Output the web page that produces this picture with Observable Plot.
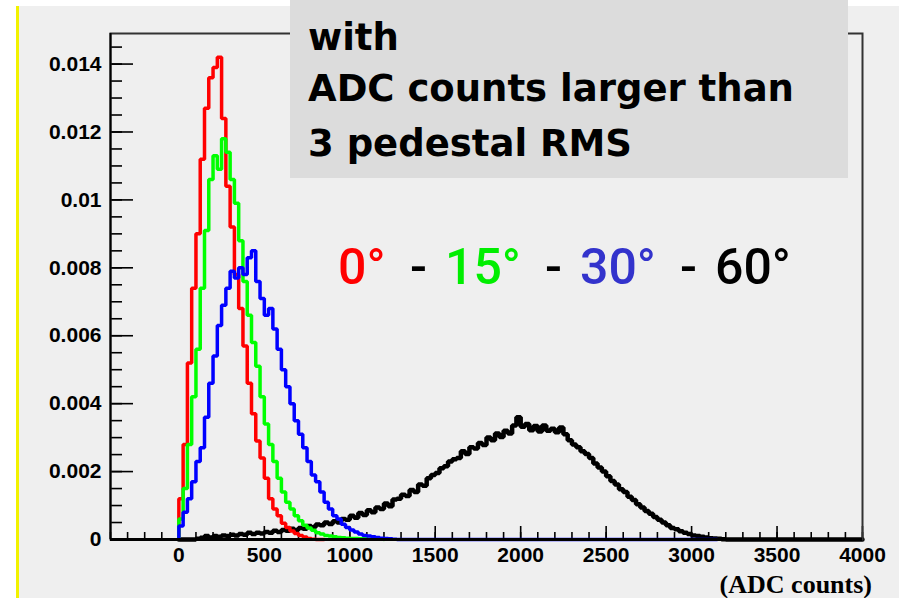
<!DOCTYPE html>
<html><head><meta charset="utf-8">
<script src="https://cdn.jsdelivr.net/npm/d3@7"></script>
<script src="https://cdn.jsdelivr.net/npm/@observablehq/plot@0.6"></script>
<style>
html,body{margin:0;padding:0;background:#fff;}
#wrap{position:relative;width:899px;height:598px;overflow:hidden;background:#fff;}
#panel{position:absolute;left:19px;top:6px;right:0;bottom:0;background:#efefef;}
#ybar{position:absolute;left:16px;top:6px;width:3px;bottom:0;background:#f2f200;}
#chart{position:absolute;left:0;top:0;}
</style>
</head><body>
<div id="wrap"><div id="panel"></div><div id="ybar"></div><div id="chart"></div></div>
<script>
// ---- data (histograms, bin width 25 ADC counts, starting at 0) ----
const binWidth = 25;
const red0 = [0.0012,0.0028,0.0052,0.0074,0.0090,0.0112,0.0127,0.0136,0.0139,0.0142,0.0124,0.0104,0.0092,0.0078,0.0068,0.0057,0.0046,0.0037,0.0029,0.0024,0.0018,0.0012,0.0009,0.0007,0.00048,0.00035,0.00025,0.00018,0.00012,0.00007,0.00003,0.00001];
const green15 = [0.0006,0.0015,0.0028,0.0042,0.0056,0.0074,0.0091,0.0106,0.0113,0.0109,0.0118,0.0114,0.0106,0.0099,0.0088,0.0076,0.0066,0.0058,0.0051,0.0042,0.0034,0.0028,0.0023,0.0018,0.0014,0.0011,0.0009,0.0007,0.00055,0.00042,0.00034,0.00027,0.0002,0.00016,0.00012,0.0001,0.00008,0.00006,0.00005,0.00004,0.00003,0.00003,0.00002,0.00002,0.00001,0.00001,0.00001,0.00001];
const blue30 = [0.0004,0.0008,0.0012,0.0017,0.0023,0.0027,0.0036,0.0046,0.0054,0.0063,0.0069,0.0074,0.0079,0.0077,0.0080,0.0078,0.0083,0.0085,0.0076,0.0071,0.0066,0.0068,0.0062,0.0056,0.0050,0.0045,0.0040,0.0035,0.0031,0.0027,0.0023,0.0019,0.0017,0.0014,0.0011,0.0009,0.0007,0.0006,0.00045,0.00035,0.00028,0.00022,0.00016,0.00012,0.0001,0.00008,0.00006,0.00004,0.00003,0.00002,0.00001];
const black60 = [0,0,0,0,0.00002,0.00005,0.0001,0.00006,0.0001,0.00008,0.00012,0.0001,0.00014,0.00012,0.00016,0.00014,0.0002,0.00016,0.0002,0.00018,0.00022,0.0002,0.00026,0.00022,0.00028,0.00026,0.00032,0.00028,0.00034,0.00032,0.0004,0.00036,0.00044,0.00042,0.0005,0.00046,0.00054,0.0005,0.0006,0.00058,0.0007,0.00064,0.00078,0.00072,0.00086,0.0008,0.00094,0.0009,0.00106,0.00098,0.00118,0.0012,0.00132,0.00128,0.00146,0.0014,0.00162,0.00158,0.0018,0.0019,0.00196,0.0021,0.00216,0.0023,0.00236,0.0024,0.0026,0.00252,0.00272,0.00268,0.00284,0.00278,0.003,0.00292,0.00312,0.00302,0.0032,0.00312,0.00336,0.0036,0.00332,0.0034,0.00322,0.00334,0.00318,0.00336,0.0032,0.00326,0.00316,0.0033,0.0031,0.00292,0.0028,0.00272,0.0026,0.00252,0.0024,0.00224,0.00212,0.002,0.00186,0.00172,0.00162,0.00148,0.0014,0.00126,0.00116,0.00104,0.00094,0.00084,0.00076,0.00066,0.00058,0.0005,0.00042,0.00034,0.0003,0.00024,0.0002,0.00016,0.00012,0.0001,0.00008,0.00006,0.00004,0.00003,0.00002,0.00001];
// histogram range ends (empty bins drawn at zero up to here)
const rangeEnds = [850, 1200, 3150, 4000];
const seriesNames = ["0°", "15°", "30°", "60°"];
const lineColors = ["#ff0000", "#00ff00", "#0000ff", "#000000"];
const textColors = ["#ff0000", "#00ee00", "#3333cc", "#000000"];

// axes
const xDomain = [-400, 4000];
const yDomain = [0, 0.0149];
const xMajor = [0, 500, 1000, 1500, 2000, 2500, 3000, 3500, 4000];
const xMinor = d3.range(-400, 4001, 100);
const yMajor = [0, 0.002, 0.004, 0.006, 0.008, 0.01, 0.012, 0.014];
const yMinor = d3.range(0, 0.01451, 0.0005);
const xTitle = "(ADC counts)";
const boxLines = ["with", "ADC counts larger than", "3 pedestal RMS"];

function steps(vals, end) {
  const pts = [{x: 0, y: 0}];
  vals.forEach((v, i) => pts.push({x: i * binWidth, y: v}));
  pts.push({x: vals.length * binWidth, y: 0});
  pts.push({x: end, y: 0});
  return pts;
}
const allSeries = [red0, green15, blue30, black60];
const drawOrder = [3, 0, 1, 2];
const lineWidths = [3.5, 3.5, 3.5, 4.5];

const W = 899, H = 598, mL = 110, mR = 37, mT = 33, mB = 59;
const pw = W - mL - mR, ph = H - mT - mB;
const font = "'Liberation Sans', Arial, sans-serif";

const plot = Plot.plot({
  width: W, height: H,
  marginLeft: mL, marginRight: mR, marginTop: mT, marginBottom: mB,
  style: {background: "transparent", fontFamily: font, color: "#000"},
  x: {domain: xDomain},
  y: {domain: yDomain},
  marks: [
    Plot.tickY(yMinor, {y: d => d, insetRight: pw - 12, stroke: "#000", strokeWidth: 1.6}),
    Plot.tickY(yMajor, {y: d => d, insetRight: pw - 23, stroke: "#000", strokeWidth: 1.6}),
    Plot.tickX(xMinor, {x: d => d, insetTop: ph - 7, stroke: "#000", strokeWidth: 1.6}),
    Plot.tickX(xMajor, {x: d => d, insetTop: ph - 13, stroke: "#000", strokeWidth: 1.6}),
    Plot.axisY(yMajor, {tickSize: 0, tickPadding: 9, fontSize: 21, fontWeight: "bold", label: null, tickFormat: d => String(d)}),
    Plot.axisX(xMajor, {tickSize: 0, tickPadding: 8, fontSize: 21, fontWeight: "bold", label: null, tickFormat: d => String(d)}),
    ...drawOrder.map(k => Plot.line(steps(allSeries[k], rangeEnds[k]), {x: "x", y: "y", curve: "step-after", stroke: lineColors[k], strokeWidth: lineWidths[k], strokeLinejoin: "miter"})),
    Plot.frame({stroke: "#333", strokeWidth: 2}),
    Plot.ruleY([0], {stroke: "#000", strokeWidth: 3}),
    Plot.ruleX([xDomain[0]], {stroke: "#000", strokeWidth: 2})
  ]
});
document.getElementById("chart").appendChild(plot);

// annotations
const svg = d3.select(plot);
svg.append("rect").attr("x", 290).attr("y", 0).attr("width", 558).attr("height", 178).attr("fill", "#dcdcdc");
boxLines.forEach((t, i) => {
  svg.append("text").attr("x", 308).attr("y", [50, 101, 156][i]).attr("text-anchor", "start")
    .attr("font-family", "'DejaVu Sans', sans-serif").attr("font-weight", "bold").attr("font-size", 37)
    .attr("fill", "#000").text(t);
});
const legX = [338, 445, 580, 715];
const dashX = [410, 545, 680];
seriesNames.forEach((s, i) => {
  svg.append("text").attr("x", legX[i]).attr("y", 284).attr("text-anchor", "start")
    .attr("font-family", "Roboto, sans-serif").attr("font-weight", 500).attr("font-size", 50)
    .attr("fill", textColors[i]).text(s);
});
dashX.forEach(x => {
  svg.append("text").attr("x", x).attr("y", 284).attr("text-anchor", "start")
    .attr("font-family", "Roboto, sans-serif").attr("font-weight", 500).attr("font-size", 50)
    .attr("fill", "#000").text("-");
});
svg.append("text").attr("x", 872).attr("y", 593).attr("text-anchor", "end")
  .attr("font-family", "'Liberation Serif', serif").attr("font-weight", "bold").attr("font-size", 26)
  .attr("fill", "#000").text(xTitle);
</script>
</body></html>
